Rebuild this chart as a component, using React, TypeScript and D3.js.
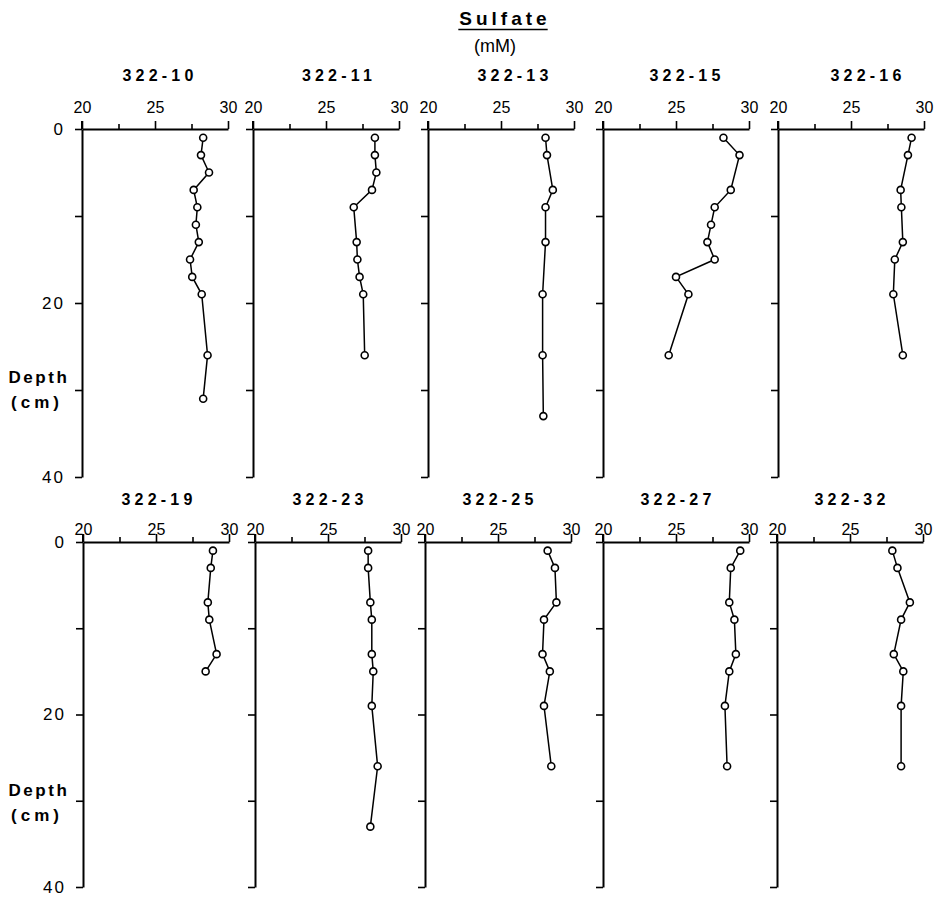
import React, { useEffect, useRef } from 'react';
import * as d3 from 'd3';

// core names, depth (cm) and sulfate (mM)
const coreNames = ['322-10', '322-11', '322-13', '322-15', '322-16', '322-19', '322-23', '322-25', '322-27', '322-32'];

const depth10 = [1, 3, 5, 7, 9, 11, 13, 15, 17, 19, 26, 31];
const sulfate10 = [28.3, 28.15, 28.7, 27.65, 27.9, 27.8, 28.0, 27.4, 27.55, 28.2, 28.6, 28.3];
const depth11 = [1, 3, 5, 7, 9, 13, 15, 17, 19, 26];
const sulfate11 = [28.35, 28.35, 28.45, 28.15, 26.9, 27.1, 27.15, 27.3, 27.55, 27.65];
const depth13 = [1, 3, 7, 9, 13, 19, 26, 33];
const sulfate13 = [28.05, 28.15, 28.55, 28.05, 28.05, 27.85, 27.85, 27.9];
const depth15 = [1, 3, 7, 9, 11, 13, 15, 17, 19, 26];
const sulfate15 = [28.25, 29.35, 28.75, 27.65, 27.4, 27.15, 27.65, 25.0, 25.85, 24.5];
const depth16 = [1, 3, 7, 9, 13, 15, 19, 26];
const sulfate16 = [29.15, 28.9, 28.4, 28.45, 28.55, 28.0, 27.9, 28.55];
const depth19 = [1, 3, 7, 9, 13, 15];
const sulfate19 = [28.9, 28.75, 28.55, 28.65, 29.15, 28.4];
const depth23 = [1, 3, 7, 9, 13, 15, 19, 26, 33];
const sulfate23 = [27.75, 27.75, 27.9, 28.0, 28.0, 28.1, 28.0, 28.4, 27.9];
const depth25 = [1, 3, 7, 9, 13, 15, 19, 26];
const sulfate25 = [28.4, 28.9, 29.0, 28.15, 28.05, 28.55, 28.15, 28.65];
const depth27 = [1, 3, 7, 9, 13, 15, 19, 26];
const sulfate27 = [29.4, 28.75, 28.65, 29.0, 29.1, 28.65, 28.35, 28.5];
const depth32 = [1, 3, 7, 9, 13, 15, 19, 26];
const sulfate32 = [27.9, 28.25, 29.1, 28.5, 28.0, 28.65, 28.5, 28.5];

const depthList = [depth10, depth11, depth13, depth15, depth16, depth19, depth23, depth25, depth27, depth32];
const sulfateList = [sulfate10, sulfate11, sulfate13, sulfate15, sulfate16, sulfate19, sulfate23, sulfate25, sulfate27, sulfate32];

const xMajorTicks = [20, 25, 30];
const xMinorTicks = [22.5, 27.5];
const yTicks = [0, 10, 20, 30, 40];

// layout of the two rows of panels
const rows = [
  { top: 129, bottom: 477, lefts: [82, 253, 428, 603, 778], titleY: 81, titleDx: [3, 11, 12, 9, 15], labelGap: 16 },
  { top: 542, bottom: 887, lefts: [83, 255, 425, 603, 777], titleY: 505, titleDx: [1, 0, 0, 0, 0], labelGap: 7 },
];
const panelWidth = 146;
const family = '"Liberation Sans", Arial, Helvetica, sans-serif';

const setFont = (sel: any, size: number, weight = 'normal', spacing = 0) =>
  sel
    .style('font-family', family)
    .style('font-size', `${size}px`)
    .style('font-weight', weight)
    .style('letter-spacing', `${spacing}px`)
    .attr('fill', '#000');

const App = () => {
  const ref = useRef<SVGSVGElement>(null);

  useEffect(() => {
    const svg = d3.select(ref.current);
    svg.selectAll('*').remove();

    // main title
    const title = svg.append('text')
      .attr('x', 505)
      .attr('y', 25)
      .attr('text-anchor', 'middle')
      .text('Sulfate');
    setFont(title, 19, 'bold', 4);
    const bb = (title.node() as SVGTextElement).getBBox();
    svg.append('line')
      .attr('x1', bb.x - 1).attr('x2', bb.x + bb.width - 3)
      .attr('y1', 29.5).attr('y2', 29.5)
      .attr('stroke', '#000').attr('stroke-width', 1.6);
    setFont(svg.append('text')
      .attr('x', 495)
      .attr('y', 52)
      .attr('text-anchor', 'middle')
      .text('(mM)'), 18);

    coreNames.forEach((name, i) => {
      const row = rows[Math.floor(i / 5)];
      const col = i % 5;
      const x0 = row.lefts[col];
      const x = d3.scaleLinear().domain([20, 30]).range([x0, x0 + panelWidth]);
      const y = d3.scaleLinear().domain([0, 40]).range([row.top, row.bottom]);
      const g = svg.append('g');

      // core label
      setFont(g.append('text')
        .attr('x', x0 + panelWidth / 2 + row.titleDx[col] + 2)
        .attr('y', row.titleY)
        .attr('text-anchor', 'middle')
        .text(name), 16, 'bold', 4.2);

      // sulfate axis on top
      const ax = g.append('g')
        .attr('transform', `translate(0,${row.top})`)
        .call(d3.axisTop(x).tickValues(xMajorTicks).tickSize(8).tickSizeOuter(0).tickPadding(row.labelGap - 8).tickFormat(d3.format('d')));
      ax.select('.domain').attr('stroke-width', 2);
      ax.selectAll('.tick line').attr('stroke-width', 1.6);
      setFont(ax.selectAll('text'), 16);

      const minor = g.append('g')
        .attr('transform', `translate(0,${row.top})`)
        .call(d3.axisTop(x).tickValues(xMinorTicks).tickSize(5).tickFormat(() => ''));
      minor.select('.domain').remove();
      minor.selectAll('.tick line').attr('stroke-width', 1.6);

      // depth axis on the left
      const ay = g.append('g')
        .attr('transform', `translate(${x0},0)`)
        .call(d3.axisLeft(y).tickValues(yTicks).tickSize(7).tickSizeOuter(0).tickPadding(10)
          .tickFormat((d) => (col === 0 && +d % 20 === 0 ? String(d) : '')));
      ay.select('.domain').attr('stroke-width', 2);
      ay.selectAll('.tick line').attr('stroke-width', 1.6);
      setFont(ay.selectAll('text'), 17, 'normal', 2);
      g.append('line')
        .attr('x1', x0).attr('x2', x0)
        .attr('y1', row.top - 8).attr('y2', row.top)
        .attr('stroke', '#000').attr('stroke-width', 2);

      if (col === 0) {
        setFont(g.append('text')
          .attr('x', 39).attr('y', row.top + 254)
          .attr('text-anchor', 'middle')
          .text('Depth'), 17, 'bold', 2.6);
        setFont(g.append('text')
          .attr('x', 37).attr('y', row.top + 279)
          .attr('text-anchor', 'middle')
          .text('(cm)'), 17, 'bold', 4);
      }

      const pts = depthList[i].map((d, k) => ({ depth: d, value: sulfateList[i][k] }));
      const line = d3.line<{ depth: number; value: number }>()
        .x((d) => x(d.value))
        .y((d) => y(d.depth));

      g.append('path')
        .datum(pts)
        .attr('d', line)
        .attr('fill', 'none')
        .attr('stroke', '#000')
        .attr('stroke-width', 1.5);

      g.selectAll('circle')
        .data(pts)
        .join('circle')
        .attr('cx', (d) => x(d.value))
        .attr('cy', (d) => y(d.depth))
        .attr('r', 3.5)
        .attr('fill', '#fff')
        .attr('stroke', '#000')
        .attr('stroke-width', 1.6);
    });
  }, []);

  return (
    <svg
      ref={ref}
      width="945"
      height="901"
      style={{ position: 'absolute', left: 0, top: 0, background: '#fff' }}
    ></svg>
  );
};

export default App;
